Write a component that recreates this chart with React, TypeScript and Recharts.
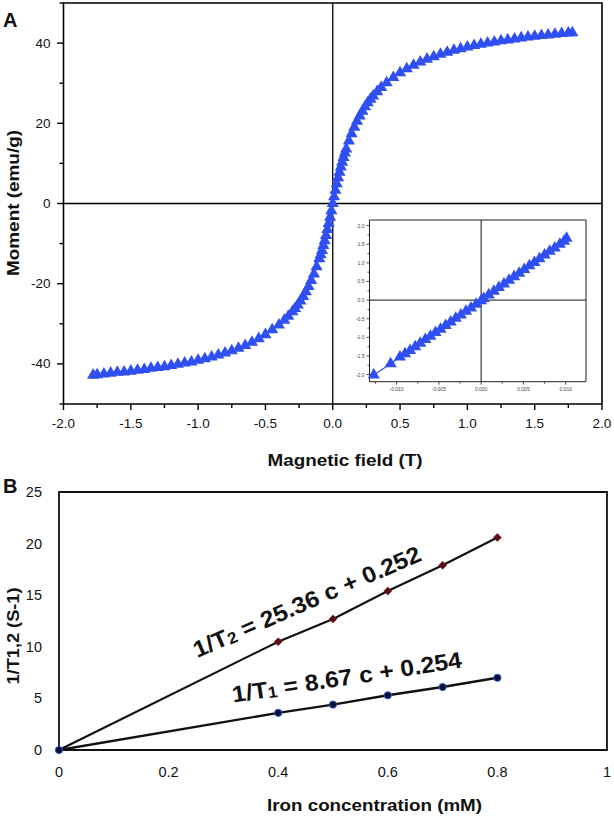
// Two-panel figure: (A) magnetisation loop with a low-field inset,
// (B) relaxation rates 1/T1 and 1/T2 against iron concentration.

import {
  Line,
  LineChart,
  ReferenceArea,
  ReferenceLine,
  Scatter,
  ScatterChart,
  XAxis,
  YAxis,
  ZAxis,
} from "recharts";

// ---- panel A: moment vs field ----
const fieldA = [
  -1.78, -1.75, -1.7, -1.65, -1.6, -1.55, -1.5, -1.45, -1.4, -1.35, -1.3, -1.25, -1.2, -1.15,
  -1.1, -1.05, -1.0, -0.95, -0.9, -0.85, -0.8, -0.75, -0.7, -0.65, -0.6, -0.55, -0.5, -0.45,
  -0.4, -0.36, -0.33, -0.3, -0.28, -0.26, -0.24, -0.22, -0.2, -0.18, -0.16, -0.14, -0.12, -0.1,
  -0.09, -0.08, -0.07, -0.06, -0.05, -0.04, -0.03, -0.02, -0.01, 0,
  0.01, 0.02, 0.03, 0.04, 0.05, 0.06, 0.07, 0.08, 0.09, 0.1, 0.12, 0.14, 0.16, 0.18, 0.2,
  0.22, 0.24, 0.26, 0.28, 0.3, 0.33, 0.36, 0.4, 0.45, 0.5, 0.55, 0.6, 0.65, 0.7, 0.75, 0.8,
  0.85, 0.9, 0.95, 1.0, 1.05, 1.1, 1.15, 1.2, 1.25, 1.3, 1.35, 1.4, 1.45, 1.5, 1.55, 1.6,
  1.65, 1.7, 1.75, 1.78,
];
const momentA = [
  -42.8, -42.7, -42.5, -42.3, -42.1, -42.0, -41.8, -41.6, -41.4, -41.1, -40.9, -40.7, -40.4, -40.1,
  -39.8, -39.5, -39.1, -38.7, -38.3, -37.8, -37.3, -36.7, -36.1, -35.4, -34.6, -33.7, -32.7, -31.5,
  -30.3, -29.1, -28.1, -27.0, -26.2, -25.3, -24.3, -23.2, -22.0, -20.7, -19.2, -17.6, -15.8, -13.8,
  -12.8, -11.7, -10.5, -9.3, -8.0, -6.5, -5.0, -3.4, -1.8, 0,
  1.7, 3.3, 4.9, 6.4, 7.8, 9.1, 10.3, 11.5, 12.6, 13.6, 15.6, 17.4, 19.0, 20.5, 21.8,
  23.0, 24.1, 25.1, 26.0, 26.8, 27.9, 28.9, 30.1, 31.4, 32.6, 33.6, 34.5, 35.3, 36.0, 36.6, 37.2,
  37.7, 38.2, 38.6, 39.0, 39.4, 39.7, 40.0, 40.3, 40.6, 40.8, 41.0, 41.3, 41.5, 41.7, 41.9, 42.0,
  42.2, 42.4, 42.5, 42.6,
];
const xTicksA = [-2, -1.75, -1.5, -1.25, -1, -0.75, -0.5, -0.25, 0, 0.25, 0.5, 0.75, 1, 1.25, 1.5, 1.75, 2];
const yTicksA = [-50, -40, -30, -20, -10, 0, 10, 20, 30, 40, 50];

// ---- inset: low-field linear part ----
const fieldIn = [
  -0.0127, -0.0107, -0.0096, -0.009, -0.0084, -0.0078, -0.0072, -0.0066, -0.006, -0.0054, -0.0048,
  -0.0042, -0.0036, -0.003, -0.0024, -0.0018, -0.0012, -0.0006, 0.0, 0.0003, 0.0009, 0.0015, 0.0021,
  0.0027, 0.0033, 0.0039, 0.0045, 0.0051, 0.0057, 0.0063, 0.0069, 0.0075, 0.0081, 0.0087, 0.0093,
  0.0098, 0.0101,
];
const momentIn = [
  -2.01, -1.71, -1.53, -1.44, -1.35, -1.25, -1.16, -1.06, -0.97, -0.87, -0.78,
  -0.68, -0.59, -0.49, -0.4, -0.3, -0.21, -0.11, -0.02, 0.04, 0.14, 0.24, 0.34,
  0.43, 0.53, 0.63, 0.72, 0.82, 0.92, 1.01, 1.11, 1.21, 1.31, 1.4, 1.5,
  1.58, 1.66,
];
const xTicksIn = [-0.0125, -0.01, -0.0075, -0.005, -0.0025, 0, 0.0025, 0.005, 0.0075, 0.01];
const yTicksIn = [-2, -1.75, -1.5, -1.25, -1, -0.75, -0.5, -0.25, 0, 0.25, 0.5, 0.75, 1, 1.25, 1.5, 1.75, 2];

// ---- panel B: relaxation rates ----
const ironConc = [0, 0.4, 0.5, 0.6, 0.7, 0.8];
const rateT2 = [0, 10.5, 12.7, 15.4, 17.9, 20.6];
const rateT1 = [0, 3.6, 4.4, 5.3, 6.1, 7.0];
const xTicksB = [0, 0.2, 0.4, 0.6, 0.8, 1];
const yTicksB = [0, 5, 10, 15, 20, 25];

const loopA = fieldA.map((h, i) => ({ h, m: momentA[i] }));
const loopIn = fieldIn.map((h, i) => ({ h, m: momentIn[i] }));
const ratesB = ironConc.map((c, i) => ({ c, t1: rateT1[i], t2: rateT2[i] }));

const FONT = "'Liberation Sans', Arial, sans-serif";
const BLUE = "#2f4ff2";

const near = (v: number, step: number) => Math.abs(v / step - Math.round(v / step)) < 1e-6;

function XTickA({ x, y, payload }: any) {
  const v = payload.value as number;
  const major = near(v, 0.5);
  return (
    <g>
      <line x1={x} x2={x} y1={y} y2={y + (major ? 6 : 4)} stroke="#000" strokeWidth={1.4} />
      {major && (
        <text x={x} y={y + 24} textAnchor="middle" fontSize={13.5} fontFamily={FONT} fill="#111">
          {v.toFixed(1)}
        </text>
      )}
    </g>
  );
}

function YTickA({ x, y, payload }: any) {
  const v = payload.value as number;
  const major = near(v, 20);
  return (
    <g>
      <line x1={x} x2={x - (major ? 6.5 : 4)} y1={y} y2={y} stroke="#000" strokeWidth={1.4} />
      {major && (
        <text x={x - 13} y={y} textAnchor="end" dominantBaseline="central" fontSize={13.5} fontFamily={FONT} fill="#111">
          {v}
        </text>
      )}
    </g>
  );
}

function XTickIn({ x, y, payload }: any) {
  const v = payload.value as number;
  const major = near(v, 0.005);
  return (
    <g>
      <line x1={x} x2={x} y1={y} y2={y + (major ? 3 : 2)} stroke="#222" strokeWidth={0.8} />
      {major && (
        <text x={x} y={y + 7} textAnchor="middle" dominantBaseline="central" fontSize={5} fontFamily={FONT} fill="#444">
          {v.toFixed(3)}
        </text>
      )}
    </g>
  );
}

function YTickIn({ x, y, payload }: any) {
  const v = payload.value as number;
  const major = near(v, 0.5);
  return (
    <g>
      <line x1={x} x2={x - (major ? 3 : 2)} y1={y} y2={y} stroke="#222" strokeWidth={0.8} />
      {major && (
        <text x={x - 5} y={y} textAnchor="end" dominantBaseline="central" fontSize={5} fontFamily={FONT} fill="#444">
          {v.toFixed(1)}
        </text>
      )}
    </g>
  );
}

function XTickB({ x, y, payload }: any) {
  return (
    <text x={x} y={y + 22} textAnchor="middle" dominantBaseline="central" fontSize={14.5} fontFamily={FONT} fill="#111">
      {payload.value}
    </text>
  );
}

function YTickB({ x, y, payload }: any) {
  return (
    <text x={x - 17} y={y} textAnchor="end" dominantBaseline="central" fontSize={14.5} fontFamily={FONT} fill="#111">
      {payload.value}
    </text>
  );
}

function Diamond({ cx, cy, index }: any) {
  if (cx == null || cy == null) return <g key={index} />;
  const r = 4;
  return (
    <path
      key={index}
      d={`M${cx},${cy - r}L${cx + r},${cy}L${cx},${cy + r}L${cx - r},${cy}Z`}
      fill="#5a0c16"
      stroke="#7a1a22"
      strokeWidth={0.6}
    />
  );
}

function Dot({ cx, cy, index }: any) {
  if (cx == null || cy == null) return <g key={index} />;
  return <circle key={index} cx={cx} cy={cy} r={3.6} fill="#0c1030" stroke="#2a58d8" strokeWidth={1} />;
}

export default function App() {
  return (
    <div style={{ position: "absolute", left: 0, top: 0, width: 614, height: 817, background: "#fff" }}>
      {/* panel A */}
      <div style={{ position: "absolute", left: 0, top: 0 }}>
        <ScatterChart width={614} height={470} margin={{ top: 3, right: 12, bottom: 0, left: 0 }}>
          <XAxis
            type="number"
            dataKey="h"
            domain={[-2, 2]}
            ticks={xTicksA}
            interval={0}
            height={66}
            tickSize={0}
            tickMargin={0}
            axisLine={false}
            tickLine={false}
            tick={<XTickA />}
          />
          <YAxis
            type="number"
            dataKey="m"
            domain={[-50, 50]}
            ticks={yTicksA}
            interval={0}
            width={63.5}
            tickSize={0}
            tickMargin={0}
            axisLine={false}
            tickLine={false}
            tick={<YTickA />}
          />
          <ZAxis range={[17, 17]} />
          <ReferenceArea x1={-2} x2={2} y1={-50} y2={50} fill="none" stroke="#000" strokeWidth={1.6} ifOverflow="visible" />
          <ReferenceLine x={0} stroke="#000" strokeWidth={1.3} />
          <ReferenceLine y={0} stroke="#000" strokeWidth={1.3} />
          <Scatter
            data={loopA}
            shape="triangle"
            fill={BLUE}
            line={{ stroke: "#8fe08a", strokeWidth: 1.2 }}
            lineType="joint"
            isAnimationActive={false}
          />
        </ScatterChart>
      </div>

      {/* inset */}
      <div style={{ position: "absolute", left: 345, top: 215 }}>
        <ScatterChart width={250} height={185} margin={{ top: 5, right: 9, bottom: 0, left: 0 }}>
          <XAxis
            type="number"
            dataKey="h"
            domain={[-0.0132, 0.0124]}
            ticks={xTicksIn}
            interval={0}
            height={18.3}
            tickSize={0}
            tickMargin={0}
            axisLine={false}
            tickLine={false}
            tick={<XTickIn />}
          />
          <YAxis
            type="number"
            dataKey="m"
            domain={[-2.19, 2.15]}
            ticks={yTicksIn}
            interval={0}
            width={24.5}
            tickSize={0}
            tickMargin={0}
            axisLine={false}
            tickLine={false}
            tick={<YTickIn />}
          />
          <ZAxis range={[11, 11]} />
          <ReferenceArea x1={-0.0132} x2={0.0124} y1={-2.19} y2={2.15} fill="none" stroke="#222" strokeWidth={1} ifOverflow="visible" />
          <ReferenceLine x={0} stroke="#111" strokeWidth={1} />
          <ReferenceLine y={0} stroke="#111" strokeWidth={1} />
          <Scatter
            data={loopIn}
            shape="triangle"
            fill={BLUE}
            line={{ stroke: BLUE, strokeWidth: 1.2 }}
            lineType="joint"
            isAnimationActive={false}
          />
        </ScatterChart>
      </div>

      {/* panel B */}
      <div style={{ position: "absolute", left: 0, top: 480 }}>
        <LineChart width={614} height={300} data={ratesB} margin={{ top: 12, right: 7, bottom: 0, left: 0 }}>
          <XAxis
            type="number"
            dataKey="c"
            domain={[0, 1]}
            ticks={xTicksB}
            interval={0}
            height={30}
            tickSize={0}
            tickMargin={0}
            axisLine={false}
            tickLine={false}
            tick={<XTickB />}
          />
          <YAxis
            type="number"
            domain={[0, 25]}
            ticks={yTicksB}
            interval={0}
            width={59}
            tickSize={0}
            tickMargin={0}
            axisLine={false}
            tickLine={false}
            tick={<YTickB />}
          />
          <ReferenceArea x1={0} x2={1} y1={0} y2={25} fill="none" stroke="#111" strokeWidth={1.8} ifOverflow="visible" />
          <Line dataKey="t2" stroke="#111" strokeWidth={2.2} dot={<Diamond />} activeDot={false} isAnimationActive={false} />
          <Line dataKey="t1" stroke="#111" strokeWidth={2.4} dot={<Dot />} activeDot={false} isAnimationActive={false} />
        </LineChart>
      </div>

      {/* titles and annotations */}
      <svg
        width={614}
        height={817}
        style={{ position: "absolute", left: 0, top: 0, pointerEvents: "none" }}
        fontFamily={FONT}
        fontWeight="bold"
        fill="#111"
      >
        <text x={3} y={27} fontSize={20}>A</text>
        <text x={3} y={493} fontSize={20}>B</text>
        <text
          transform="translate(13,203) rotate(-90)"
          textAnchor="middle"
          dominantBaseline="central"
          fontSize={16}
          textLength={146}
          lengthAdjust="spacingAndGlyphs"
        >
          Moment (emu/g)
        </text>
        <text
          x={345}
          y={460}
          textAnchor="middle"
          dominantBaseline="central"
          fontSize={17}
          textLength={155}
          lengthAdjust="spacingAndGlyphs"
        >
          Magnetic field (T)
        </text>
        <text
          transform="translate(13,636) rotate(-90)"
          textAnchor="middle"
          dominantBaseline="central"
          fontSize={16}
          textLength={97}
          lengthAdjust="spacingAndGlyphs"
        >
          1/T1,2 (S-1)
        </text>
        <text
          x={374.5}
          y={805}
          textAnchor="middle"
          dominantBaseline="central"
          fontSize={17}
          textLength={215}
          lengthAdjust="spacingAndGlyphs"
        >
          Iron concentration (mM)
        </text>
        <text
          transform="translate(310,609) rotate(-23.5)"
          textAnchor="middle"
          fontSize={23}
          textLength={246}
          lengthAdjust="spacingAndGlyphs"
        >
          1/T<tspan fontSize={16} dy={1}>2</tspan>
          <tspan dy={-1}> = 25.36 c + 0.252</tspan>
        </text>
        <text
          transform="translate(348,685) rotate(-8.7)"
          textAnchor="middle"
          fontSize={23}
          textLength={232}
          lengthAdjust="spacingAndGlyphs"
        >
          1/T<tspan fontSize={16} dy={1}>1</tspan>
          <tspan dy={-1}> = 8.67 c + 0.254</tspan>
        </text>
      </svg>
    </div>
  );
}
